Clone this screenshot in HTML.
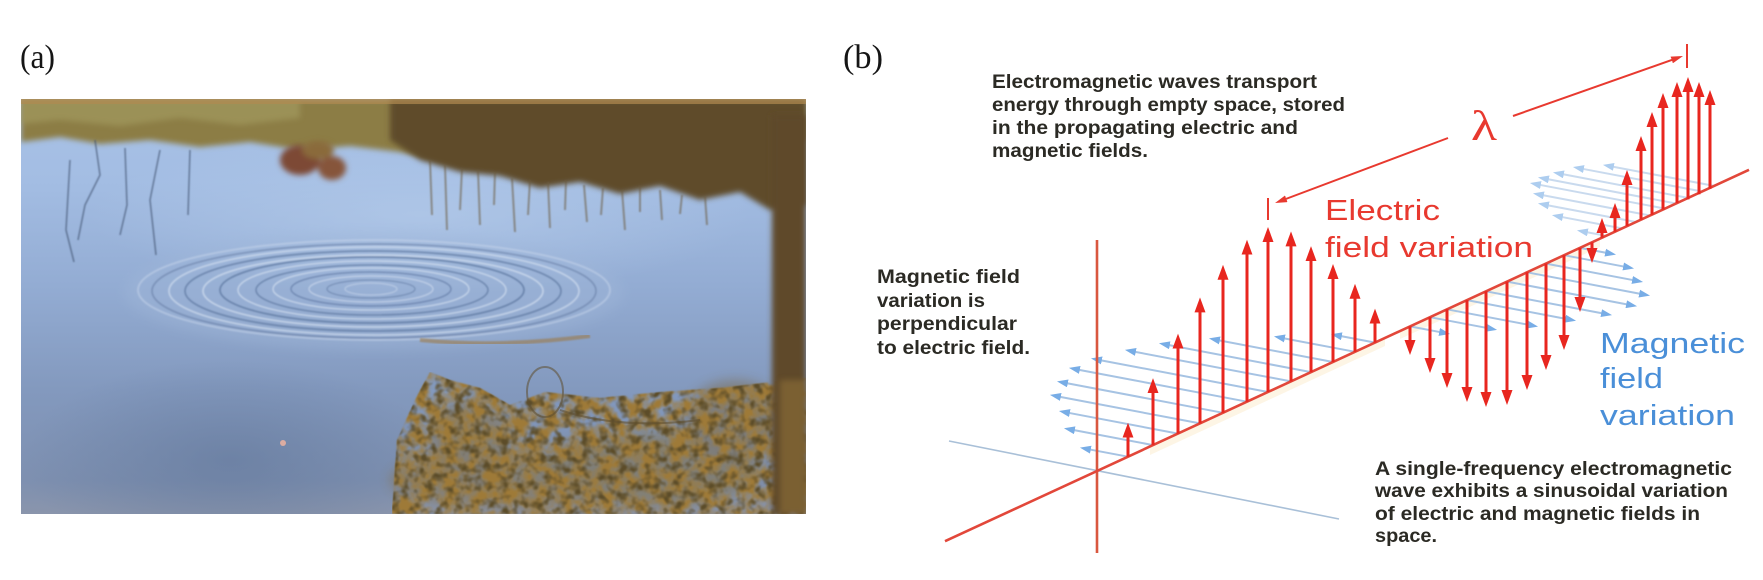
<!DOCTYPE html>
<html><head><meta charset="utf-8"><style>
html,body{margin:0;padding:0;background:#fff;width:1763px;height:580px;overflow:hidden;}
svg{display:block;}
</style></head><body>
<svg width="1763" height="580" viewBox="0 0 1763 580" xmlns="http://www.w3.org/2000/svg">
<defs>
  <linearGradient id="water" x1="0" y1="0" x2="0" y2="1">
    <stop offset="0" stop-color="#a9c2e6"/>
    <stop offset="0.2" stop-color="#a3bde3"/>
    <stop offset="0.45" stop-color="#93acd3"/>
    <stop offset="0.7" stop-color="#8399be"/>
    <stop offset="0.92" stop-color="#7e90b0"/>
    <stop offset="1" stop-color="#8a95ac"/>
  </linearGradient>
  <radialGradient id="dark" cx="0.5" cy="0.5" r="0.5">
    <stop offset="0" stop-color="#5f7599" stop-opacity="0.55"/>
    <stop offset="1" stop-color="#5f7599" stop-opacity="0"/>
  </radialGradient>
  <radialGradient id="light" cx="0.5" cy="0.5" r="0.5">
    <stop offset="0" stop-color="#b4cbea" stop-opacity="0.7"/>
    <stop offset="1" stop-color="#b4cbea" stop-opacity="0"/>
  </radialGradient>
  <filter id="b1" x="-10%" y="-10%" width="120%" height="120%"><feGaussianBlur stdDeviation="0.8"/></filter>
  <filter id="b3" x="-20%" y="-20%" width="140%" height="140%"><feGaussianBlur stdDeviation="3"/></filter>
  <filter id="b6" x="-30%" y="-30%" width="160%" height="160%"><feGaussianBlur stdDeviation="6"/></filter>
  <filter id="speck" x="0" y="0" width="100%" height="100%" color-interpolation-filters="sRGB">
    <feTurbulence type="fractalNoise" baseFrequency="0.07" numOctaves="3" seed="7" result="n"/>
    <feColorMatrix in="n" type="matrix" values="0 0 0 0 0.62  0 0 0 0 0.48  0 0 0 0 0.22  3.0 0 0 0 -0.95" result="c"/>
    <feComposite in="c" in2="SourceGraphic" operator="in" result="m"/>
    <feGaussianBlur in="m" stdDeviation="0.7"/>
  </filter>
  <filter id="speck2" x="0" y="0" width="100%" height="100%" color-interpolation-filters="sRGB">
    <feTurbulence type="fractalNoise" baseFrequency="0.11" numOctaves="2" seed="21" result="n"/>
    <feColorMatrix in="n" type="matrix" values="0 0 0 0 0.36  0 0 0 0 0.30  0 0 0 0 0.16  0 3.2 0 0 -1.45" result="c"/>
    <feComposite in="c" in2="SourceGraphic" operator="in" result="m"/>
    <feGaussianBlur in="m" stdDeviation="0.6"/>
  </filter>
  <clipPath id="pc"><rect x="21" y="99" width="785" height="415"/></clipPath>
  <marker id="ah" viewBox="0 0 15 11" refX="3" refY="5.5" markerWidth="15" markerHeight="11" markerUnits="userSpaceOnUse" orient="auto"><path d="M0,0 L15,5.5 L0,11 z" fill="#e8261f"/></marker>
  <marker id="bh" viewBox="0 0 11 8" refX="2" refY="4" markerWidth="11" markerHeight="8" markerUnits="userSpaceOnUse" orient="auto"><path d="M0,0 L11,4 L0,8 z" fill="#78ade6"/></marker>
  <marker id="lh" viewBox="0 0 12 7" refX="2" refY="3.5" markerWidth="12" markerHeight="7" markerUnits="userSpaceOnUse" orient="auto"><path d="M0,0 L12,3.5 L0,7 z" fill="#e8392f"/></marker>
</defs>

<text x="20" y="68" font-family="Liberation Serif, serif" font-size="34" fill="#151515" textLength="35" lengthAdjust="spacingAndGlyphs">(a)</text>
<text x="843" y="68" font-family="Liberation Serif, serif" font-size="34" fill="#151515" textLength="40" lengthAdjust="spacingAndGlyphs">(b)</text>

<!-- ============ (a) photo ============ -->
<g clip-path="url(#pc)">
  <rect x="21" y="99" width="785" height="415" fill="url(#water)"/>
  <ellipse cx="230" cy="460" rx="210" ry="100" fill="url(#dark)"/>
  <ellipse cx="420" cy="215" rx="330" ry="80" fill="url(#light)"/>
  <ellipse cx="374" cy="292" rx="250" ry="58" fill="#9fb6d8" opacity="0.45" filter="url(#b6)"/>
  <path d="M21,99 H806 V140 L700,155 L600,165 L520,168 L450,162 L400,152 L350,146 L300,150 L250,142 L200,147 L150,140 L100,144 L60,137 L21,142 Z" fill="#8c7d44" filter="url(#b3)"/>
  <path d="M21,99 H300 V118 L240,125 L180,118 L120,126 L60,120 L21,124 Z" fill="#a29a5e" opacity="0.7" filter="url(#b3)"/>
  <path d="M390,99 H806 V205 L770,210 L740,192 L700,200 L660,186 L620,194 L580,182 L540,188 L500,176 L460,172 L420,160 L390,140 Z" fill="#5e4c2a" filter="url(#b3)"/>
  <rect x="21" y="99" width="785" height="5" fill="#b08a50" opacity="0.7"/>
  <g stroke="#6a5a3c" stroke-width="2" opacity="0.55" filter="url(#b1)">
    <line x1="430" y1="160" x2="432" y2="215"/><line x1="445" y1="165" x2="447" y2="230"/>
    <line x1="462" y1="168" x2="460" y2="210"/><line x1="478" y1="170" x2="480" y2="225"/>
    <line x1="495" y1="172" x2="494" y2="205"/><line x1="512" y1="178" x2="515" y2="232"/>
    <line x1="530" y1="180" x2="528" y2="215"/><line x1="548" y1="182" x2="550" y2="228"/>
    <line x1="566" y1="180" x2="565" y2="210"/><line x1="584" y1="185" x2="587" y2="222"/>
    <line x1="603" y1="188" x2="601" y2="215"/><line x1="622" y1="190" x2="625" y2="230"/>
    <line x1="640" y1="186" x2="640" y2="212"/><line x1="660" y1="190" x2="662" y2="220"/>
    <line x1="682" y1="195" x2="680" y2="214"/><line x1="705" y1="196" x2="707" y2="225"/>
  </g>
  <g filter="url(#b3)">
    <ellipse cx="300" cy="160" rx="20" ry="15" fill="#7d4a34"/>
    <ellipse cx="332" cy="168" rx="14" ry="12" fill="#86543a"/>
    <ellipse cx="318" cy="150" rx="16" ry="9" fill="#8a6a3a"/>
  </g>
  <g stroke="#3e4f6c" stroke-width="1.6" fill="none" opacity="0.6" filter="url(#b1)">
    <path d="M95,140 L100,175 L85,205 L78,240"/>
    <path d="M125,148 L127,205 L120,235"/>
    <path d="M160,150 L150,200 L156,255"/>
    <path d="M190,150 L188,215"/>
    <path d="M70,160 L66,230 L74,262"/>
  </g>
  <g fill="none" filter="url(#b1)">
    <ellipse cx="374" cy="290" rx="236" ry="50" stroke="#c7d6ec" stroke-width="2" opacity="0.5"/>
    <ellipse cx="374" cy="291" rx="222" ry="47" stroke="#5a7299" stroke-width="1.8" opacity="0.45"/>
    <ellipse cx="374" cy="291" rx="205" ry="44" stroke="#d2def0" stroke-width="1.8" opacity="0.65"/>
    <ellipse cx="373" cy="291" rx="188" ry="40" stroke="#56709a" stroke-width="1.8" opacity="0.6"/>
    <ellipse cx="373" cy="291" rx="170" ry="36" stroke="#d2def0" stroke-width="1.8" opacity="0.7"/>
    <ellipse cx="372" cy="290" rx="152" ry="33" stroke="#56709a" stroke-width="1.8" opacity="0.65"/>
    <ellipse cx="372" cy="290" rx="134" ry="29" stroke="#d2def0" stroke-width="1.6" opacity="0.7"/>
    <ellipse cx="372" cy="290" rx="116" ry="25" stroke="#56709a" stroke-width="1.6" opacity="0.6"/>
    <ellipse cx="371" cy="289" rx="98" ry="21" stroke="#d2def0" stroke-width="1.5" opacity="0.7"/>
    <ellipse cx="371" cy="289" rx="80" ry="17" stroke="#56709a" stroke-width="1.5" opacity="0.55"/>
    <ellipse cx="371" cy="289" rx="62" ry="13" stroke="#d2def0" stroke-width="1.4" opacity="0.6"/>
    <ellipse cx="371" cy="289" rx="44" ry="9" stroke="#56709a" stroke-width="1.3" opacity="0.5"/>
    <ellipse cx="371" cy="289" rx="26" ry="6" stroke="#d2def0" stroke-width="1.2" opacity="0.5"/>
  </g>
  <path d="M420,340 Q500,348 590,336" stroke="#9c7a48" stroke-width="4" fill="none" opacity="0.6" filter="url(#b1)"/>
  <g filter="url(#b6)" opacity="0.45">
    <ellipse cx="520" cy="480" rx="130" ry="30" fill="#8a6c30"/>
    <ellipse cx="470" cy="440" rx="40" ry="40" fill="#86682e"/>
    <ellipse cx="650" cy="470" rx="110" ry="38" fill="#846a32"/>
    <ellipse cx="735" cy="420" rx="50" ry="40" fill="#7a6234"/>
  </g>
  <g filter="url(#speck)">
    <path d="M392,514 L397,440 L415,400 L430,372 L450,380 L480,388 L510,405 L545,392 L600,398 L660,392 L720,388 L806,378 V514 Z" fill="#000"/>
  </g>
  <g filter="url(#speck2)">
    <path d="M392,514 L397,440 L415,400 L430,372 L450,380 L480,388 L510,405 L545,392 L600,398 L660,392 L720,388 L806,378 V514 Z" fill="#000"/>
  </g>
  <g fill="none" stroke="#5e4e30" stroke-width="2" opacity="0.55">
    <ellipse cx="545" cy="392" rx="18" ry="25"/>
    <path d="M560,410 Q620,430 700,420"/>
  </g>
  <rect x="772" y="115" width="34" height="399" fill="#5e4a2c" filter="url(#b3)"/>
  <rect x="780" y="380" width="26" height="134" fill="#8e7038" opacity="0.6" filter="url(#b3)"/>
  <circle cx="283" cy="443" r="3" fill="#e8b0a0" opacity="0.9"/>
</g>

<!-- ============ (b) diagram ============ -->
<line x1="949" y1="441" x2="1339" y2="519" stroke="#a9c0d8" stroke-width="1.6"/>

<polygon points="1150,447 1385,338 1385,346 1150,455" fill="#f8e2b4" opacity="0.35"/>
<polygon points="1400,331 1600,239 1600,247 1400,339" fill="#f8e2b4" opacity="0.35"/>

<g stroke="#a6c3e3" stroke-width="2" marker-end="url(#bh)">
  <line x1="1128" y1="456.7" x2="1088.8" y2="449.3"/>
  <line x1="1153" y1="445.1" x2="1072.8" y2="429.9"/>
  <line x1="1178" y1="433.6" x2="1067.8" y2="412.7"/>
  <line x1="1200" y1="423.4" x2="1058.8" y2="396.6"/>
  <line x1="1223" y1="412.8" x2="1065.8" y2="383.0"/>
  <line x1="1247" y1="401.7" x2="1077.8" y2="369.6"/>
  <line x1="1268" y1="392.0" x2="1099.8" y2="360.1"/>
  <line x1="1291" y1="381.4" x2="1133.8" y2="351.6"/>
  <line x1="1311" y1="372.1" x2="1167.8" y2="344.9"/>
  <line x1="1333" y1="362.0" x2="1217.8" y2="340.1"/>
  <line x1="1355" y1="351.8" x2="1282.8" y2="338.1"/>
  <line x1="1375" y1="342.6" x2="1339.8" y2="335.9"/>
</g>
<g stroke="#a6c3e3" stroke-width="2" marker-end="url(#bh)">
  <line x1="1410" y1="326.4" x2="1441.2" y2="332.3"/>
  <line x1="1430" y1="317.2" x2="1488.2" y2="328.2"/>
  <line x1="1447" y1="309.3" x2="1529.2" y2="324.9"/>
  <line x1="1467" y1="300.1" x2="1567.2" y2="319.1"/>
  <line x1="1486" y1="291.3" x2="1603.2" y2="313.5"/>
  <line x1="1507" y1="281.6" x2="1628.2" y2="304.6"/>
  <line x1="1527" y1="272.3" x2="1641.2" y2="294.0"/>
  <line x1="1546" y1="263.6" x2="1634.2" y2="280.3"/>
  <line x1="1564" y1="255.2" x2="1625.2" y2="266.8"/>
  <line x1="1580" y1="247.9" x2="1607.2" y2="253.0"/>
</g>
<g stroke="#a6c3e3" stroke-width="2" marker-end="url(#bh)" opacity="0.6">
  <line x1="1606" y1="235.8" x2="1585.8" y2="232.0"/>
  <line x1="1622" y1="228.4" x2="1560.8" y2="216.8"/>
  <line x1="1636" y1="222.0" x2="1546.8" y2="205.1"/>
  <line x1="1650" y1="215.5" x2="1541.8" y2="195.0"/>
  <line x1="1665" y1="208.6" x2="1538.8" y2="184.7"/>
  <line x1="1676" y1="203.5" x2="1546.8" y2="179.0"/>
  <line x1="1688" y1="197.9" x2="1561.8" y2="174.0"/>
  <line x1="1702" y1="191.5" x2="1581.8" y2="168.7"/>
  <line x1="1714" y1="185.9" x2="1611.8" y2="166.5"/>
</g>

<line x1="1097" y1="240" x2="1097" y2="553" stroke="#d9573f" stroke-width="2.6"/>
<line x1="945" y1="541.2" x2="1749" y2="169.8" stroke="#e2473a" stroke-width="2.6"/>

<g stroke="#e8261f" stroke-width="3" marker-end="url(#ah)">
  <line x1="1128" y1="456.7" x2="1128" y2="434.7"/>
  <line x1="1153" y1="445.1" x2="1153" y2="390.1"/>
  <line x1="1178" y1="433.6" x2="1178" y2="345.6"/>
  <line x1="1200" y1="423.4" x2="1200" y2="309.4"/>
  <line x1="1223" y1="412.8" x2="1223" y2="276.8"/>
  <line x1="1247" y1="401.7" x2="1247" y2="251.7"/>
  <line x1="1268" y1="392.0" x2="1268" y2="239.0"/>
  <line x1="1291" y1="381.4" x2="1291" y2="243.4"/>
  <line x1="1311" y1="372.1" x2="1311" y2="258.1"/>
  <line x1="1333" y1="362.0" x2="1333" y2="276.0"/>
  <line x1="1355" y1="351.8" x2="1355" y2="295.8"/>
  <line x1="1375" y1="342.6" x2="1375" y2="320.6"/>

  <line x1="1410" y1="326.4" x2="1410" y2="343"/>
  <line x1="1430" y1="317.2" x2="1430" y2="361"/>
  <line x1="1447" y1="309.3" x2="1447" y2="376"/>
  <line x1="1467" y1="300.1" x2="1467" y2="390"/>
  <line x1="1486" y1="291.3" x2="1486" y2="395"/>
  <line x1="1507" y1="281.6" x2="1507" y2="393"/>
  <line x1="1527" y1="272.3" x2="1527" y2="378"/>
  <line x1="1546" y1="263.6" x2="1546" y2="358"/>
  <line x1="1564" y1="255.2" x2="1564" y2="338"/>
  <line x1="1580" y1="247.9" x2="1580" y2="300"/>
  <line x1="1592" y1="242.3" x2="1592" y2="251"/>

  <line x1="1602" y1="237.7" x2="1602" y2="230"/>
  <line x1="1615" y1="231.7" x2="1615" y2="215"/>
  <line x1="1627" y1="226.1" x2="1627" y2="182"/>
  <line x1="1641" y1="219.7" x2="1641" y2="148"/>
  <line x1="1652" y1="214.6" x2="1652" y2="124"/>
  <line x1="1663" y1="209.5" x2="1663" y2="105"/>
  <line x1="1677" y1="203.0" x2="1677" y2="94"/>
  <line x1="1688" y1="199.4" x2="1688" y2="89"/>
  <line x1="1699" y1="194.3" x2="1699" y2="94"/>
  <line x1="1710" y1="188.8" x2="1710" y2="102"/>
</g>

<g stroke="#e8392f" stroke-width="2">
  <line x1="1448" y1="138" x2="1284.4" y2="199.5" marker-end="url(#lh)"/>
  <line x1="1513" y1="116" x2="1673.6" y2="59.3" marker-end="url(#lh)"/>
  <line x1="1268" y1="198" x2="1268" y2="220"/>
  <line x1="1687" y1="44" x2="1687" y2="68"/>
</g>
<text x="1471" y="140" font-family="Liberation Serif, DejaVu Serif, serif" font-size="42" fill="#e8392f" textLength="26" lengthAdjust="spacingAndGlyphs">λ</text>

<g font-family="Liberation Sans, Arial, sans-serif" font-weight="bold" font-size="19" fill="#2b2a24">
  <text x="992" y="88" textLength="325" lengthAdjust="spacingAndGlyphs">Electromagnetic waves transport</text>
  <text x="992" y="111" textLength="353" lengthAdjust="spacingAndGlyphs">energy through empty space, stored</text>
  <text x="992" y="134" textLength="306" lengthAdjust="spacingAndGlyphs">in the propagating electric and</text>
  <text x="992" y="157" textLength="156" lengthAdjust="spacingAndGlyphs">magnetic fields.</text>

  <text x="877" y="283" textLength="143" lengthAdjust="spacingAndGlyphs">Magnetic field</text>
  <text x="877" y="307" textLength="108" lengthAdjust="spacingAndGlyphs">variation is</text>
  <text x="877" y="330" textLength="140" lengthAdjust="spacingAndGlyphs">perpendicular</text>
  <text x="877" y="354" textLength="153" lengthAdjust="spacingAndGlyphs">to electric field.</text>

  <text x="1375" y="475" textLength="357" lengthAdjust="spacingAndGlyphs">A single-frequency electromagnetic</text>
  <text x="1375" y="497" textLength="353" lengthAdjust="spacingAndGlyphs">wave exhibits a sinusoidal variation</text>
  <text x="1375" y="520" textLength="325" lengthAdjust="spacingAndGlyphs">of electric and magnetic fields in</text>
  <text x="1375" y="542" textLength="62" lengthAdjust="spacingAndGlyphs">space.</text>
</g>

<g font-family="Liberation Sans, Arial, sans-serif" font-size="29" fill="#e8392f">
  <text x="1325" y="220" textLength="115" lengthAdjust="spacingAndGlyphs">Electric</text>
  <text x="1325" y="257" textLength="208" lengthAdjust="spacingAndGlyphs">field variation</text>
</g>
<g font-family="Liberation Sans, Arial, sans-serif" font-size="29" fill="#4a8fd8">
  <text x="1600" y="353" textLength="145" lengthAdjust="spacingAndGlyphs">Magnetic</text>
  <text x="1600" y="388" textLength="63" lengthAdjust="spacingAndGlyphs">field</text>
  <text x="1600" y="425" textLength="135" lengthAdjust="spacingAndGlyphs">variation</text>
</g>
</svg>
</body></html>
